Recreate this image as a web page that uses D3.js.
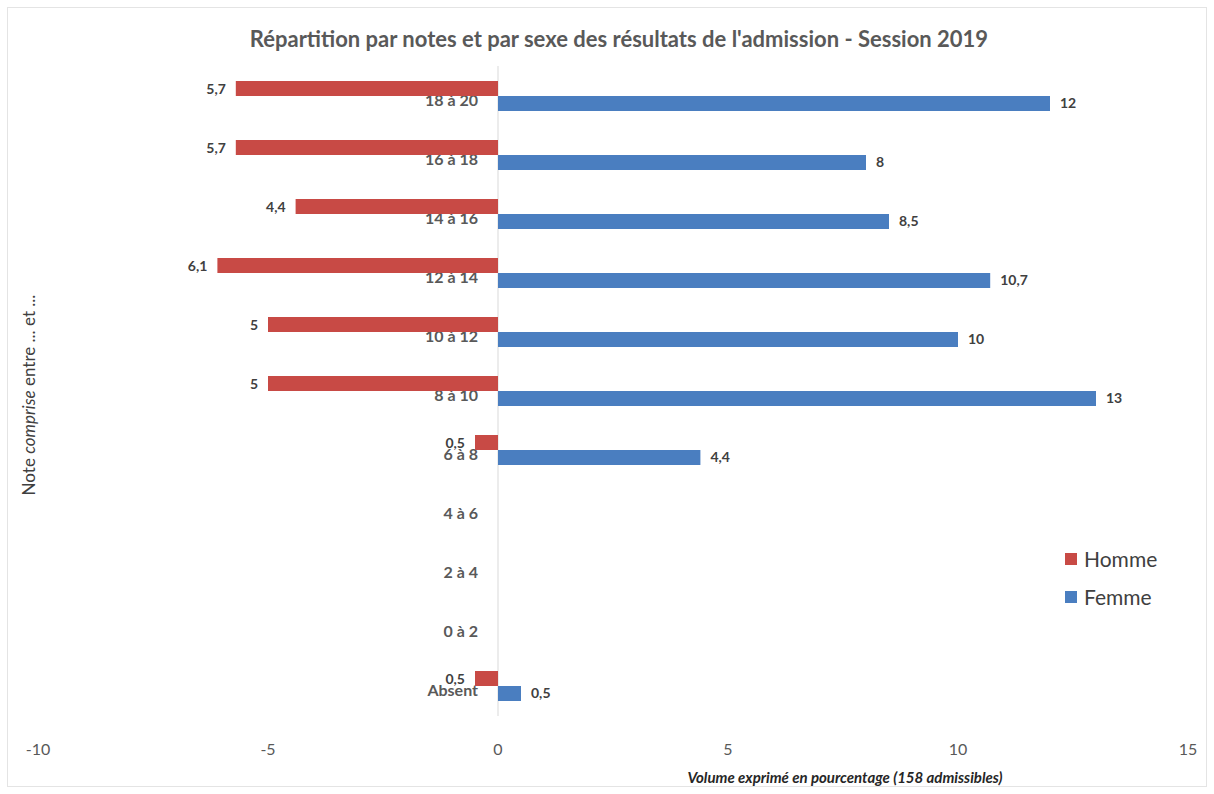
<!DOCTYPE html>
<html>
<head>
<meta charset="utf-8">
<script src="https://cdn.jsdelivr.net/npm/d3@7"></script>
<style>
  body { margin: 0; background: #fff; }
  text { font-family: Lato, 'Open Sans', sans-serif; }
</style>
</head>
<body>
<script>
// data
const categories = ['18 à 20', '16 à 18', '14 à 16', '12 à 14', '10 à 12', '8 à 10', '6 à 8', '4 à 6', '2 à 4', '0 à 2', 'Absent']
const homme = [5.7, 5.7, 4.4, 6.1, 5, 5, 0.5, 0, 0, 0, 0.5]
const femme = [12, 8, 8.5, 10.7, 10, 13, 4.4, 0, 0, 0, 0.5]
const series = ['Homme', 'Femme']
const colors = ['#c84a45', '#4a7ec0']
const xTicks = [-10, -5, 0, 5, 10, 15]

const width = 1214
const height = 794

const svg = d3.select('body').append('svg')
    .attr('width', width)
    .attr('height', height)

// frame
svg.append('rect')
    .attr('x', 7.5).attr('y', 7.5)
    .attr('width', 1199).attr('height', 779)
    .attr('fill', 'none')
    .attr('stroke', '#e4e4e4')

// scales
const x = d3.scaleLinear()
    .domain([-10, 15])
    .range([38, 1188])

const y = d3.scaleBand()
    .domain(categories)
    .range([66.5, 715.5])

const ySeries = d3.scaleBand()
    .domain(series)
    .range([0, y.bandwidth()])
    .paddingInner(0)
    .paddingOuter(0.967)

// title
svg.append('text')
    .attr('x', 619)
    .attr('y', 47)
    .attr('text-anchor', 'middle')
    .attr('font-size', 22)
    .attr('font-weight', 'bold')
    .attr('fill', '#595959')
    .text("Répartition par notes et par sexe des résultats de l'admission - Session 2019")

// zero line
svg.append('line')
    .attr('x1', x(0)).attr('x2', x(0))
    .attr('y1', 66).attr('y2', 716)
    .attr('stroke', '#d9d9d9')

// x tick labels
svg.append('g')
    .selectAll('text')
    .data(xTicks)
    .join('text')
    .attr('x', d => x(d))
    .attr('y', 755)
    .attr('text-anchor', 'middle')
    .attr('font-size', 16)
    .attr('fill', '#595959')
    .text(d => d)

// category labels (behind the bars)
svg.append('g')
    .selectAll('text')
    .data(categories)
    .join('text')
    .attr('x', 478)
    .attr('y', d => y(d) + y.bandwidth() / 2 + 10)
    .attr('text-anchor', 'end')
    .attr('font-size', 16)
    .attr('font-weight', 'bold')
    .attr('fill', '#595959')
    .text(d => d)

// bars
const rows = categories.map((c, i) => ({cat: c, Homme: -homme[i], Femme: femme[i]}))
const fmt = v => String(Math.abs(v)).replace('.', ',')

series.forEach((s, si) => {
    const g = svg.append('g')
    g.selectAll('rect')
        .data(rows)
        .join('rect')
        .attr('x', d => x(Math.min(0, d[s])))
        .attr('y', d => y(d.cat) + ySeries(s))
        .attr('width', d => Math.abs(x(d[s]) - x(0)))
        .attr('height', ySeries.bandwidth())
        .attr('fill', colors[si])

    g.selectAll('text')
        .data(rows.filter(d => d[s] != 0))
        .join('text')
        .attr('x', d => d[s] < 0 ? x(d[s]) - 10 : x(d[s]) + 10)
        .attr('y', d => y(d.cat) + ySeries(s) + ySeries.bandwidth() / 2 + 5)
        .attr('text-anchor', d => d[s] < 0 ? 'end' : 'start')
        .attr('font-size', 14)
        .attr('font-weight', 'bold')
        .attr('fill', '#404040')
        .text(d => fmt(d[s]))
})

// axis titles
svg.append('text')
    .attr('transform', 'translate(35,395) rotate(-90)')
    .attr('text-anchor', 'middle')
    .attr('font-size', 17)
    .attr('fill', '#404040')
    .call(t => {
        t.append('tspan').text('Note ')
        t.append('tspan').attr('font-style', 'italic').text('comprise')
        t.append('tspan').text(' entre ... et ...')
    })

svg.append('text')
    .attr('x', 845)
    .attr('y', 783)
    .attr('text-anchor', 'middle')
    .attr('font-size', 15)
    .attr('font-style', 'italic')
    .attr('font-weight', 'bold')
    .attr('fill', '#262626')
    .text('Volume exprimé en pourcentage (158 admissibles)')

// legend
const legend = svg.append('g')
    .selectAll('g')
    .data(series)
    .join('g')
    .attr('transform', (d, i) => `translate(1065,${553 + i * 38})`)

legend.append('rect')
    .attr('width', 12)
    .attr('height', 12)
    .attr('fill', (d, i) => colors[i])

legend.append('text')
    .attr('x', 19)
    .attr('y', 14)
    .attr('font-size', 21)
    .attr('fill', '#404040')
    .text(d => d)
</script>
</body>
</html>
